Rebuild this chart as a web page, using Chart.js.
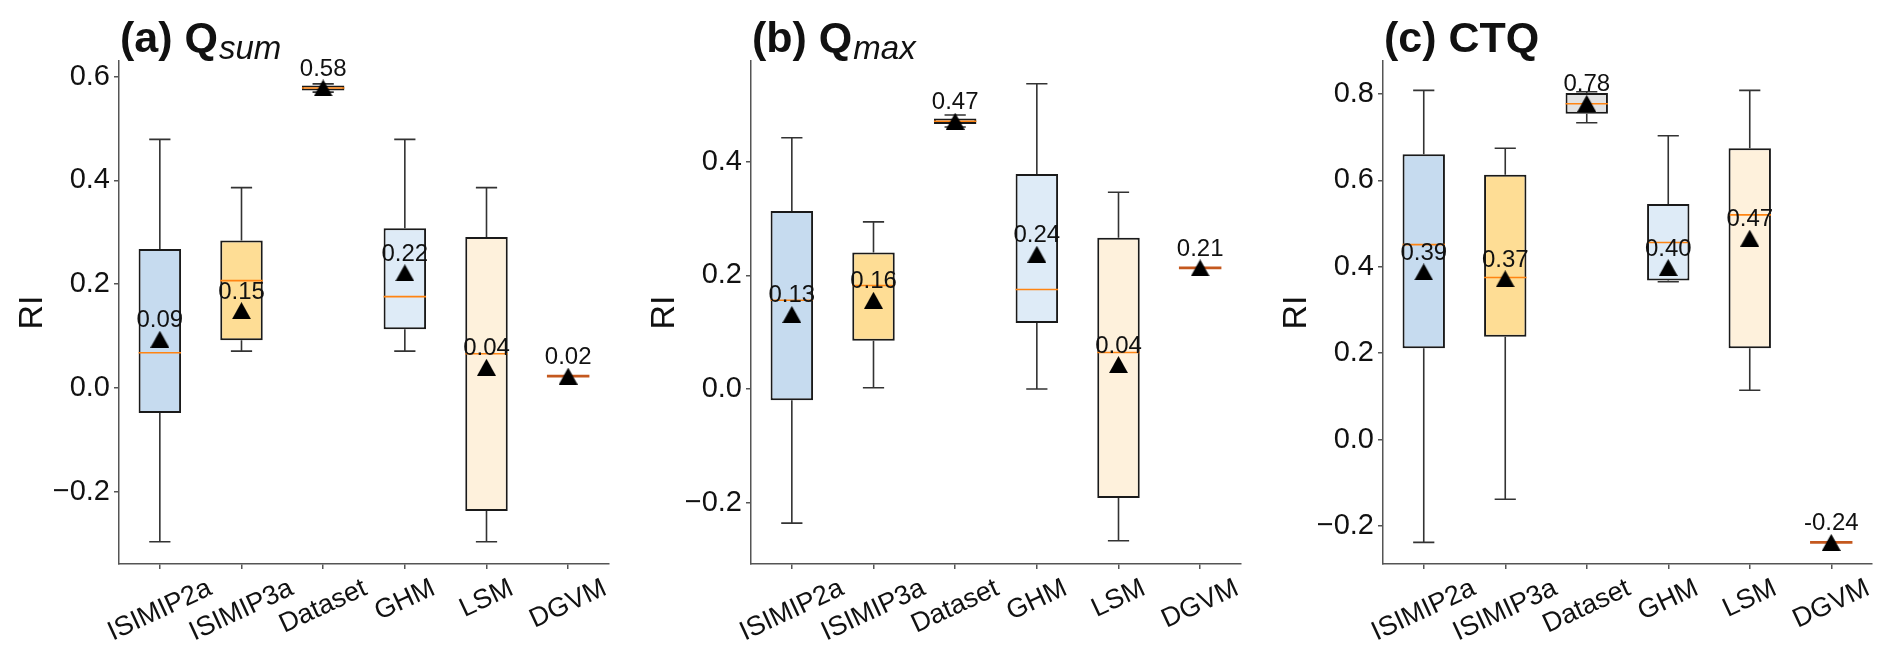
<!DOCTYPE html>
<html>
<head>
<meta charset="utf-8">
<script src="https://cdn.jsdelivr.net/npm/chart.js@4.4.0/dist/chart.umd.min.js"></script>
<style>
  html, body { margin: 0; padding: 0; background: #fff; }
  #wrap { position: relative; width: 1892px; height: 668px; }
  .panel { position: absolute; top: 0; height: 668px; }
</style>
</head>
<body>
<div id="wrap">
  <div class="panel" style="left:0;width:632px"><canvas id="chartA"></canvas></div>
  <div class="panel" style="left:632px;width:632px"><canvas id="chartB"></canvas></div>
  <div class="panel" style="left:1264px;width:628px"><canvas id="chartC"></canvas></div>
</div>
<script>
'use strict';

const categories = ['ISIMIP2a', 'ISIMIP3a', 'Dataset', 'GHM', 'LSM', 'DGVM'];

// (a) Q_sum
const sumLow    = [-0.296, 0.071, 0.570, 0.071, -0.296, 0.023];
const sumQ1     = [-0.048, 0.092, 0.573, 0.113, -0.237, 0.023];
const sumMedian = [0.068, 0.207, 0.578, 0.176, 0.066, 0.023];
const sumQ3     = [0.268, 0.284, 0.583, 0.308, 0.291, 0.023];
const sumHigh   = [0.479, 0.386, 0.586, 0.479, 0.386, 0.023];
const sumMean   = [0.094, 0.149, 0.578, 0.222, 0.040, 0.023];
const sumTicks  = [-0.2, 0.0, 0.2, 0.4, 0.6];

// (b) Q_max
const maxLow    = [-0.236, 0.002, 0.461, 0.000, -0.267, 0.213];
const maxQ1     = [-0.020, 0.085, 0.466, 0.116, -0.192, 0.213];
const maxMedian = [0.156, 0.182, 0.471, 0.175, 0.064, 0.213];
const maxQ3     = [0.313, 0.240, 0.476, 0.378, 0.266, 0.213];
const maxHigh   = [0.442, 0.294, 0.482, 0.537, 0.346, 0.213];
const maxMean   = [0.131, 0.156, 0.471, 0.237, 0.043, 0.213];
const maxTicks  = [-0.2, 0.0, 0.2, 0.4];

// (c) CTQ
const ctqLow    = [-0.238, -0.138, 0.733, 0.365, 0.114, -0.238];
const ctqQ1     = [0.211, 0.238, 0.754, 0.368, 0.211, -0.238];
const ctqMedian = [0.451, 0.375, 0.777, 0.456, 0.520, -0.238];
const ctqQ3     = [0.660, 0.613, 0.802, 0.545, 0.674, -0.238];
const ctqHigh   = [0.808, 0.674, 0.805, 0.703, 0.808, -0.238];
const ctqMean   = [0.388, 0.372, 0.778, 0.398, 0.466, -0.238];
const ctqTicks  = [-0.2, 0.0, 0.2, 0.4, 0.6, 0.8];

const boxColors = ['#c6dbef', '#fedd95', '#e2e2e2', '#deebf7', '#fef1dc', '#fdd0a2'];
const FONT = '"Liberation Sans", Arial, sans-serif';
const AXIS = '#555';

function fmtTick(v) {
    if (Math.abs(v) < 1e-9) return '0.0';
    return (v < 0 ? '\u2212' : '') + Math.abs(v).toFixed(1);
}

// matplotlib-like "^" marker, centred on the value
function triangleMarker(w, h) {
    const cv = document.createElement('canvas');
    cv.width = w;
    cv.height = h;
    const g = cv.getContext('2d');
    g.fillStyle = '#000';
    g.beginPath();
    g.moveTo(w / 2, 0);
    g.lineTo(w, h);
    g.lineTo(0, h);
    g.closePath();
    g.fill();
    return cv;
}
const meanMarker = triangleMarker(19, 17);

function makeChart(id, p) {
    const ctx = document.getElementById(id).getContext('2d');

    const boxPlugin = {
        id: 'boxParts',
        beforeDatasetsDraw(chart) {
            // whiskers and caps
            const c = chart.ctx, y = chart.scales.y;
            const bars = chart.getDatasetMeta(0).data;
            c.save();
            c.strokeStyle = '#333';
            c.lineWidth = 1.6;
            bars.forEach((bar, i) => {
                const cap = bar.width / 4;
                [[p.low[i], p.q1[i]], [p.high[i], p.q3[i]]].forEach(([end, edge]) => {
                    if (end === edge) return;
                    const ye = y.getPixelForValue(end), yb = y.getPixelForValue(edge);
                    c.beginPath();
                    c.moveTo(bar.x, yb); c.lineTo(bar.x, ye);
                    c.moveTo(bar.x - cap, ye); c.lineTo(bar.x + cap, ye);
                    c.stroke();
                });
            });
            c.restore();
        },
        afterDatasetDraw(chart, args) {
            if (args.index !== 0) return;
            // median lines
            const c = chart.ctx, y = chart.scales.y;
            chart.getDatasetMeta(0).data.forEach((bar, i) => {
                const ym = y.getPixelForValue(p.median[i]);
                const flat = p.q1[i] === p.q3[i];
                c.save();
                c.strokeStyle = flat ? '#c4581e' : '#ff8412';
                c.lineWidth = flat ? 2.6 : 1.6;
                c.beginPath();
                c.moveTo(bar.x - bar.width / 2, ym);
                c.lineTo(bar.x + bar.width / 2, ym);
                c.stroke();
                c.restore();
            });
        },
        afterDraw(chart) {
            const c = chart.ctx, area = chart.chartArea, xs = chart.scales.x;
            c.save();
            c.fillStyle = '#111';

            // mean labels
            c.font = '24px ' + FONT;
            c.textAlign = 'center';
            c.textBaseline = 'alphabetic';
            chart.getDatasetMeta(1).data.forEach((pt, i) => {
                c.fillText(p.mean[i].toFixed(2), pt.x, pt.y - 12);
            });

            // rotated category labels, centred under each tick
            c.font = '27px ' + FONT;
            const ang = 25 * Math.PI / 180;
            categories.forEach((lab, i) => {
                const x = xs.getPixelForTick(i);
                const w = c.measureText(lab).width;
                const h = w * Math.sin(ang) + 22 * Math.cos(ang);
                c.save();
                c.translate(x, area.bottom + 13 + h / 2);
                c.rotate(-ang);
                c.textAlign = 'center';
                c.textBaseline = 'middle';
                c.fillText(lab, 0, 0);
                c.restore();
            });

            // panel title with subscript
            c.textAlign = 'left';
            c.textBaseline = 'alphabetic';
            c.font = 'bold 43px ' + FONT;
            c.fillText(p.title, area.left + 1, 52);
            if (p.sub) {
                const tw = c.measureText(p.title).width;
                c.font = 'italic 33px ' + FONT;
                c.fillText(p.sub, area.left + tw + 2, 59);
            }
            c.restore();
        }
    };

    return new Chart(ctx, {
        type: 'bar',
        data: {
            labels: categories,
            datasets: [
                {
                    type: 'bar',
                    data: p.q1.map((v, i) => [v, p.q3[i]]),
                    backgroundColor: boxColors,
                    borderColor: '#1a1a1a',
                    borderWidth: 2,
                    borderSkipped: false,
                    barPercentage: 0.52,
                    categoryPercentage: 1.0,
                    order: 2
                },
                {
                    type: 'line',
                    data: p.mean,
                    showLine: false,
                    pointStyle: meanMarker,
                    pointRadius: 10,
                    order: 1
                }
            ]
        },
        options: {
            responsive: true,
            maintainAspectRatio: false,
            animation: false,
            layout: { padding: { top: 61, right: p.padRight, bottom: 0, left: 0 } },
            plugins: { legend: { display: false }, tooltip: { enabled: false } },
            scales: {
                x: {
                    offset: true,
                    afterFit: s => { s.height = 104; },
                    grid: { offset: false, drawOnChartArea: false, drawTicks: true, tickLength: 5, color: AXIS, lineWidth: 1.5 },
                    border: { display: true, color: AXIS, width: 1.5 },
                    ticks: { display: false }
                },
                y: {
                    min: p.min,
                    max: p.max,
                    afterBuildTicks: s => { s.ticks = p.ticks.map(v => ({ value: v })); },
                    afterFit: s => { s.width = 119; },
                    grid: { drawOnChartArea: false, drawTicks: true, tickLength: 5, color: AXIS, lineWidth: 1.5 },
                    border: { display: true, color: AXIS, width: 1.5 },
                    ticks: { color: '#111', padding: 4, font: { size: 29, family: FONT }, callback: v => fmtTick(v) },
                    title: { display: true, text: 'RI', color: '#111', padding: { top: 12, bottom: 0 }, font: { size: 34, family: FONT } }
                }
            }
        },
        plugins: [boxPlugin]
    });
}

makeChart('chartA', {
    title: '(a) Q', sub: 'sum',
    low: sumLow, q1: sumQ1, median: sumMedian, q3: sumQ3, high: sumHigh, mean: sumMean,
    ticks: sumTicks, min: -0.339, max: 0.630, padRight: 23
});
makeChart('chartB', {
    title: '(b) Q', sub: 'max',
    low: maxLow, q1: maxQ1, median: maxMedian, q3: maxQ3, high: maxHigh, mean: maxMean,
    ticks: maxTicks, min: -0.308, max: 0.577, padRight: 23
});
makeChart('chartC', {
    title: '(c) CTQ', sub: '',
    low: ctqLow, q1: ctqQ1, median: ctqMedian, q3: ctqQ3, high: ctqHigh, mean: ctqMean,
    ticks: ctqTicks, min: -0.288, max: 0.876, padRight: 20
});
</script>
</body>
</html>
